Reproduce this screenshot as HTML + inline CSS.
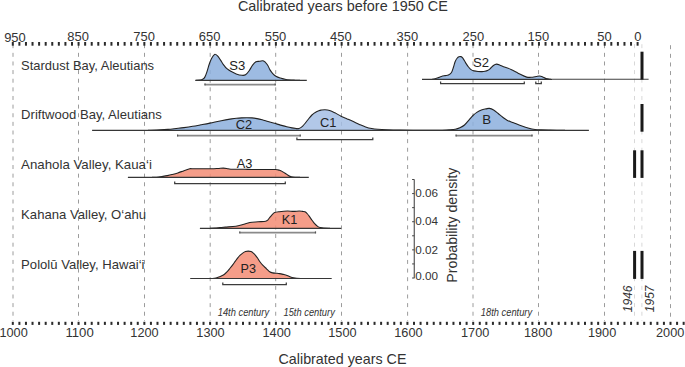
<!DOCTYPE html>
<html><head><meta charset="utf-8"><title>Calibrated years chart</title>
<style>html,body{margin:0;padding:0;background:#fff;width:685px;height:367px;overflow:hidden;font-family:"Liberation Sans",sans-serif;}svg{display:block;}</style>
</head><body>
<svg width="685" height="367" viewBox="0 0 685 367">
<line x1="13.00" y1="44.2" x2="13.00" y2="321" stroke="#9c9c9c" stroke-width="1" stroke-dasharray="4.0 4.63"/>
<line x1="78.50" y1="44.2" x2="78.50" y2="321" stroke="#9c9c9c" stroke-width="1" stroke-dasharray="4.0 4.63"/>
<line x1="144.50" y1="44.2" x2="144.50" y2="321" stroke="#9c9c9c" stroke-width="1" stroke-dasharray="4.0 4.63"/>
<line x1="210.20" y1="44.2" x2="210.20" y2="321" stroke="#9c9c9c" stroke-width="1" stroke-dasharray="4.0 4.63"/>
<line x1="275.70" y1="44.2" x2="275.70" y2="321" stroke="#9c9c9c" stroke-width="1" stroke-dasharray="4.0 4.63"/>
<line x1="341.50" y1="44.2" x2="341.50" y2="321" stroke="#9c9c9c" stroke-width="1" stroke-dasharray="4.0 4.63"/>
<line x1="407.60" y1="44.2" x2="407.60" y2="321" stroke="#9c9c9c" stroke-width="1" stroke-dasharray="4.0 4.63"/>
<line x1="473.00" y1="44.2" x2="473.00" y2="321" stroke="#9c9c9c" stroke-width="1" stroke-dasharray="4.0 4.63"/>
<line x1="538.50" y1="44.2" x2="538.50" y2="321" stroke="#9c9c9c" stroke-width="1" stroke-dasharray="4.0 4.63"/>
<line x1="604.50" y1="44.2" x2="604.50" y2="321" stroke="#9c9c9c" stroke-width="1" stroke-dasharray="4.0 4.63"/>
<line x1="670.50" y1="45.2" x2="670.50" y2="321" stroke="#9c9c9c" stroke-width="1" stroke-dasharray="4.0 4.63"/>
<line x1="634.50" y1="44.2" x2="634.50" y2="321" stroke="#d8d8d8" stroke-width="1" stroke-dasharray="4.0 4.63"/>
<line x1="641.90" y1="44.2" x2="641.90" y2="321" stroke="#d8d8d8" stroke-width="1" stroke-dasharray="4.0 4.63"/>
<path d="M196.00,80.30 C196.67,80.27 198.95,80.23 200.00,80.10 C201.05,79.97 201.52,79.95 202.30,79.50 C203.08,79.05 203.92,78.72 204.70,77.40 C205.48,76.08 206.23,73.83 207.00,71.60 C207.77,69.37 208.52,66.23 209.30,64.00 C210.08,61.77 210.82,59.80 211.70,58.20 C212.58,56.60 213.63,54.80 214.60,54.40 C215.57,54.00 216.53,54.88 217.50,55.80 C218.47,56.72 219.42,58.43 220.40,59.90 C221.38,61.37 222.32,63.13 223.40,64.60 C224.48,66.07 225.55,67.53 226.90,68.70 C228.25,69.87 229.95,70.73 231.50,71.60 C233.05,72.47 234.45,73.28 236.20,73.90 C237.95,74.52 240.45,75.15 242.00,75.30 C243.55,75.45 244.33,75.52 245.50,74.80 C246.67,74.08 247.82,72.60 249.00,71.00 C250.18,69.40 251.43,66.75 252.60,65.20 C253.77,63.65 254.83,62.35 256.00,61.70 C257.17,61.05 258.43,61.47 259.60,61.30 C260.77,61.13 262.03,60.53 263.00,60.70 C263.97,60.87 264.62,61.55 265.40,62.30 C266.18,63.05 266.93,63.93 267.70,65.20 C268.47,66.47 269.12,68.45 270.00,69.90 C270.88,71.35 272.02,72.83 273.00,73.90 C273.98,74.97 274.73,75.62 275.90,76.30 C277.07,76.98 278.32,77.47 280.00,78.00 C281.68,78.53 283.50,79.13 286.00,79.50 C288.50,79.87 292.67,80.07 295.00,80.20 C297.33,80.33 299.17,80.28 300.00,80.30 L300.00,80.30 L196.00,80.30 Z" fill="#8cafdd" fill-opacity="0.85" stroke="none"/>
<path d="M196.00,80.30 C196.67,80.27 198.95,80.23 200.00,80.10 C201.05,79.97 201.52,79.95 202.30,79.50 C203.08,79.05 203.92,78.72 204.70,77.40 C205.48,76.08 206.23,73.83 207.00,71.60 C207.77,69.37 208.52,66.23 209.30,64.00 C210.08,61.77 210.82,59.80 211.70,58.20 C212.58,56.60 213.63,54.80 214.60,54.40 C215.57,54.00 216.53,54.88 217.50,55.80 C218.47,56.72 219.42,58.43 220.40,59.90 C221.38,61.37 222.32,63.13 223.40,64.60 C224.48,66.07 225.55,67.53 226.90,68.70 C228.25,69.87 229.95,70.73 231.50,71.60 C233.05,72.47 234.45,73.28 236.20,73.90 C237.95,74.52 240.45,75.15 242.00,75.30 C243.55,75.45 244.33,75.52 245.50,74.80 C246.67,74.08 247.82,72.60 249.00,71.00 C250.18,69.40 251.43,66.75 252.60,65.20 C253.77,63.65 254.83,62.35 256.00,61.70 C257.17,61.05 258.43,61.47 259.60,61.30 C260.77,61.13 262.03,60.53 263.00,60.70 C263.97,60.87 264.62,61.55 265.40,62.30 C266.18,63.05 266.93,63.93 267.70,65.20 C268.47,66.47 269.12,68.45 270.00,69.90 C270.88,71.35 272.02,72.83 273.00,73.90 C273.98,74.97 274.73,75.62 275.90,76.30 C277.07,76.98 278.32,77.47 280.00,78.00 C281.68,78.53 283.50,79.13 286.00,79.50 C288.50,79.87 292.67,80.07 295.00,80.20 C297.33,80.33 299.17,80.28 300.00,80.30" fill="none" stroke="#222" stroke-width="1.1" stroke-linejoin="round"/>
<line x1="195.20" y1="80.30" x2="306.80" y2="80.30" stroke="#363636" stroke-width="1.15"/>
<path d="M432.00,79.30 C432.52,79.20 434.10,78.95 435.10,78.70 C436.10,78.45 436.95,78.18 438.00,77.80 C439.05,77.42 440.23,76.77 441.40,76.40 C442.57,76.03 443.83,75.83 445.00,75.60 C446.17,75.37 447.32,75.52 448.40,75.00 C449.48,74.48 450.65,73.83 451.50,72.50 C452.35,71.17 452.88,68.83 453.50,67.00 C454.12,65.17 454.57,63.00 455.20,61.50 C455.83,60.00 456.67,58.78 457.30,58.00 C457.93,57.22 458.43,57.03 459.00,56.80 C459.57,56.57 460.17,56.50 460.70,56.60 C461.23,56.70 461.65,56.83 462.20,57.40 C462.75,57.97 463.40,59.05 464.00,60.00 C464.60,60.95 465.05,61.93 465.80,63.10 C466.55,64.27 467.63,65.92 468.50,67.00 C469.37,68.08 470.08,68.95 471.00,69.60 C471.92,70.25 472.83,70.58 474.00,70.90 C475.17,71.22 476.67,71.38 478.00,71.50 C479.33,71.62 480.83,71.63 482.00,71.60 C483.17,71.57 484.08,71.47 485.00,71.30 C485.92,71.13 486.67,71.00 487.50,70.60 C488.33,70.20 489.02,69.75 490.00,68.90 C490.98,68.05 492.30,66.30 493.40,65.50 C494.50,64.70 495.50,64.15 496.60,64.10 C497.70,64.05 498.85,64.77 500.00,65.20 C501.15,65.63 501.67,66.00 503.50,66.70 C505.33,67.40 508.50,68.28 511.00,69.40 C513.50,70.52 515.88,72.12 518.50,73.40 C521.12,74.68 524.37,76.47 526.70,77.10 C529.03,77.73 530.90,77.30 532.50,77.20 C534.10,77.10 535.13,76.70 536.30,76.50 C537.47,76.30 538.45,75.93 539.50,76.00 C540.55,76.07 541.52,76.47 542.60,76.90 C543.68,77.33 544.60,78.20 546.00,78.60 C547.40,79.00 550.17,79.18 551.00,79.30 L551.00,79.30 L432.00,79.30 Z" fill="#8cafdd" fill-opacity="0.85" stroke="none"/>
<path d="M432.00,79.30 C432.52,79.20 434.10,78.95 435.10,78.70 C436.10,78.45 436.95,78.18 438.00,77.80 C439.05,77.42 440.23,76.77 441.40,76.40 C442.57,76.03 443.83,75.83 445.00,75.60 C446.17,75.37 447.32,75.52 448.40,75.00 C449.48,74.48 450.65,73.83 451.50,72.50 C452.35,71.17 452.88,68.83 453.50,67.00 C454.12,65.17 454.57,63.00 455.20,61.50 C455.83,60.00 456.67,58.78 457.30,58.00 C457.93,57.22 458.43,57.03 459.00,56.80 C459.57,56.57 460.17,56.50 460.70,56.60 C461.23,56.70 461.65,56.83 462.20,57.40 C462.75,57.97 463.40,59.05 464.00,60.00 C464.60,60.95 465.05,61.93 465.80,63.10 C466.55,64.27 467.63,65.92 468.50,67.00 C469.37,68.08 470.08,68.95 471.00,69.60 C471.92,70.25 472.83,70.58 474.00,70.90 C475.17,71.22 476.67,71.38 478.00,71.50 C479.33,71.62 480.83,71.63 482.00,71.60 C483.17,71.57 484.08,71.47 485.00,71.30 C485.92,71.13 486.67,71.00 487.50,70.60 C488.33,70.20 489.02,69.75 490.00,68.90 C490.98,68.05 492.30,66.30 493.40,65.50 C494.50,64.70 495.50,64.15 496.60,64.10 C497.70,64.05 498.85,64.77 500.00,65.20 C501.15,65.63 501.67,66.00 503.50,66.70 C505.33,67.40 508.50,68.28 511.00,69.40 C513.50,70.52 515.88,72.12 518.50,73.40 C521.12,74.68 524.37,76.47 526.70,77.10 C529.03,77.73 530.90,77.30 532.50,77.20 C534.10,77.10 535.13,76.70 536.30,76.50 C537.47,76.30 538.45,75.93 539.50,76.00 C540.55,76.07 541.52,76.47 542.60,76.90 C543.68,77.33 544.60,78.20 546.00,78.60 C547.40,79.00 550.17,79.18 551.00,79.30" fill="none" stroke="#222" stroke-width="1.1" stroke-linejoin="round"/>
<line x1="422.00" y1="79.30" x2="552.00" y2="79.30" stroke="#363636" stroke-width="1.15"/>
<line x1="552.00" y1="79.30" x2="648.60" y2="79.30" stroke="#404040" stroke-width="1.10"/>
<line x1="204.60" y1="84.60" x2="275.60" y2="84.60" stroke="#8a8a8a" stroke-width="1.7"/>
<rect x="204.40" y="83.40" width="1.2" height="2.0" fill="#555"/>
<rect x="274.60" y="83.40" width="1.2" height="2.0" fill="#555"/>
<path d="M440.60,81.40 L440.60,83.50 L524.30,83.50 L524.30,81.40" fill="none" stroke="#3c3c3c" stroke-width="1.25"/>
<path d="M535.80,81.40 L535.80,83.50 L541.30,83.50 L541.30,81.40" fill="none" stroke="#3c3c3c" stroke-width="1.25"/>
<path d="M148.00,130.30 C150.00,130.23 156.67,130.05 160.00,129.90 C163.33,129.75 165.28,129.63 168.00,129.40 C170.72,129.17 173.63,128.80 176.30,128.50 C178.97,128.20 181.27,127.97 184.00,127.60 C186.73,127.23 189.87,126.77 192.70,126.30 C195.53,125.83 198.12,125.33 201.00,124.80 C203.88,124.27 206.62,123.78 210.00,123.10 C213.38,122.42 217.72,121.40 221.30,120.70 C224.88,120.00 228.97,119.32 231.50,118.90 C234.03,118.48 234.80,118.38 236.50,118.20 C238.20,118.03 239.95,117.93 241.70,117.85 C243.45,117.77 245.28,117.69 247.00,117.70 C248.72,117.71 250.33,117.75 252.00,117.90 C253.67,118.05 255.30,118.28 257.00,118.60 C258.70,118.92 260.37,119.32 262.20,119.80 C264.03,120.28 265.97,120.92 268.00,121.50 C270.03,122.08 272.32,122.70 274.40,123.30 C276.48,123.90 278.45,124.52 280.50,125.10 C282.55,125.68 284.78,126.33 286.70,126.80 C288.62,127.27 290.30,127.60 292.00,127.90 C293.70,128.20 295.77,128.45 296.90,128.60 C298.03,128.75 298.48,128.77 298.80,128.80 L298.80,130.30 L148.00,130.30 Z" fill="#8cafdd" fill-opacity="0.85" stroke="none"/>
<path d="M148.00,130.30 C150.00,130.23 156.67,130.05 160.00,129.90 C163.33,129.75 165.28,129.63 168.00,129.40 C170.72,129.17 173.63,128.80 176.30,128.50 C178.97,128.20 181.27,127.97 184.00,127.60 C186.73,127.23 189.87,126.77 192.70,126.30 C195.53,125.83 198.12,125.33 201.00,124.80 C203.88,124.27 206.62,123.78 210.00,123.10 C213.38,122.42 217.72,121.40 221.30,120.70 C224.88,120.00 228.97,119.32 231.50,118.90 C234.03,118.48 234.80,118.38 236.50,118.20 C238.20,118.03 239.95,117.93 241.70,117.85 C243.45,117.77 245.28,117.69 247.00,117.70 C248.72,117.71 250.33,117.75 252.00,117.90 C253.67,118.05 255.30,118.28 257.00,118.60 C258.70,118.92 260.37,119.32 262.20,119.80 C264.03,120.28 265.97,120.92 268.00,121.50 C270.03,122.08 272.32,122.70 274.40,123.30 C276.48,123.90 278.45,124.52 280.50,125.10 C282.55,125.68 284.78,126.33 286.70,126.80 C288.62,127.27 290.30,127.60 292.00,127.90 C293.70,128.20 295.77,128.45 296.90,128.60 C298.03,128.75 298.48,128.77 298.80,128.80" fill="none" stroke="#222" stroke-width="1.1" stroke-linejoin="round"/>
<path d="M296.60,128.90 C296.98,128.83 298.20,128.72 298.90,128.50 C299.60,128.28 300.17,128.00 300.80,127.60 C301.43,127.20 302.00,126.78 302.70,126.10 C303.40,125.42 304.23,124.43 305.00,123.50 C305.77,122.57 306.53,121.48 307.30,120.50 C308.07,119.52 308.83,118.52 309.60,117.60 C310.37,116.68 311.13,115.75 311.90,115.00 C312.67,114.25 313.43,113.65 314.20,113.10 C314.97,112.55 315.73,112.10 316.50,111.70 C317.27,111.30 318.03,110.97 318.80,110.70 C319.57,110.43 320.07,110.27 321.10,110.10 C322.13,109.93 323.58,109.65 325.00,109.70 C326.42,109.75 327.95,109.88 329.60,110.40 C331.25,110.92 333.00,111.83 334.90,112.80 C336.80,113.77 338.95,115.18 341.00,116.20 C343.05,117.22 345.15,118.00 347.20,118.90 C349.25,119.80 351.27,120.68 353.30,121.60 C355.33,122.52 357.35,123.52 359.40,124.40 C361.45,125.28 363.55,126.22 365.60,126.90 C367.65,127.58 369.67,128.10 371.70,128.50 C373.73,128.90 375.25,129.08 377.80,129.30 C380.35,129.52 383.30,129.67 387.00,129.80 C390.70,129.93 394.50,130.03 400.00,130.10 C405.50,130.17 413.33,130.17 420.00,130.20 C426.67,130.23 436.67,130.28 440.00,130.30 L440.00,130.30 L296.60,130.30 Z" fill="#a4bee4" fill-opacity="0.85" stroke="none"/>
<path d="M296.60,128.90 C296.98,128.83 298.20,128.72 298.90,128.50 C299.60,128.28 300.17,128.00 300.80,127.60 C301.43,127.20 302.00,126.78 302.70,126.10 C303.40,125.42 304.23,124.43 305.00,123.50 C305.77,122.57 306.53,121.48 307.30,120.50 C308.07,119.52 308.83,118.52 309.60,117.60 C310.37,116.68 311.13,115.75 311.90,115.00 C312.67,114.25 313.43,113.65 314.20,113.10 C314.97,112.55 315.73,112.10 316.50,111.70 C317.27,111.30 318.03,110.97 318.80,110.70 C319.57,110.43 320.07,110.27 321.10,110.10 C322.13,109.93 323.58,109.65 325.00,109.70 C326.42,109.75 327.95,109.88 329.60,110.40 C331.25,110.92 333.00,111.83 334.90,112.80 C336.80,113.77 338.95,115.18 341.00,116.20 C343.05,117.22 345.15,118.00 347.20,118.90 C349.25,119.80 351.27,120.68 353.30,121.60 C355.33,122.52 357.35,123.52 359.40,124.40 C361.45,125.28 363.55,126.22 365.60,126.90 C367.65,127.58 369.67,128.10 371.70,128.50 C373.73,128.90 375.25,129.08 377.80,129.30 C380.35,129.52 383.30,129.67 387.00,129.80 C390.70,129.93 394.50,130.03 400.00,130.10 C405.50,130.17 413.33,130.17 420.00,130.20 C426.67,130.23 436.67,130.28 440.00,130.30" fill="none" stroke="#222" stroke-width="1.1" stroke-linejoin="round"/>
<path d="M440.00,130.30 C441.53,130.23 446.65,130.07 449.20,129.90 C451.75,129.73 453.52,129.65 455.30,129.30 C457.08,128.95 458.37,128.52 459.90,127.80 C461.43,127.08 462.97,126.33 464.50,125.00 C466.03,123.67 467.68,121.38 469.10,119.80 C470.52,118.22 471.72,116.73 473.00,115.50 C474.28,114.27 475.40,113.32 476.80,112.40 C478.20,111.48 479.87,110.58 481.40,110.00 C482.93,109.42 484.67,109.17 486.00,108.90 C487.33,108.63 488.13,108.22 489.40,108.40 C490.67,108.58 492.13,109.15 493.60,110.00 C495.07,110.85 496.67,112.28 498.20,113.50 C499.73,114.72 501.27,116.15 502.80,117.30 C504.33,118.45 505.60,119.48 507.40,120.40 C509.20,121.32 511.30,121.90 513.60,122.80 C515.90,123.70 518.65,124.88 521.20,125.80 C523.75,126.72 526.60,127.68 528.90,128.30 C531.20,128.92 532.95,129.23 535.00,129.50 C537.05,129.77 538.70,129.80 541.20,129.90 C543.70,130.00 546.03,130.03 550.00,130.10 C553.97,130.17 562.50,130.27 565.00,130.30 L565.00,130.30 L440.00,130.30 Z" fill="#8cafdd" fill-opacity="0.85" stroke="none"/>
<path d="M440.00,130.30 C441.53,130.23 446.65,130.07 449.20,129.90 C451.75,129.73 453.52,129.65 455.30,129.30 C457.08,128.95 458.37,128.52 459.90,127.80 C461.43,127.08 462.97,126.33 464.50,125.00 C466.03,123.67 467.68,121.38 469.10,119.80 C470.52,118.22 471.72,116.73 473.00,115.50 C474.28,114.27 475.40,113.32 476.80,112.40 C478.20,111.48 479.87,110.58 481.40,110.00 C482.93,109.42 484.67,109.17 486.00,108.90 C487.33,108.63 488.13,108.22 489.40,108.40 C490.67,108.58 492.13,109.15 493.60,110.00 C495.07,110.85 496.67,112.28 498.20,113.50 C499.73,114.72 501.27,116.15 502.80,117.30 C504.33,118.45 505.60,119.48 507.40,120.40 C509.20,121.32 511.30,121.90 513.60,122.80 C515.90,123.70 518.65,124.88 521.20,125.80 C523.75,126.72 526.60,127.68 528.90,128.30 C531.20,128.92 532.95,129.23 535.00,129.50 C537.05,129.77 538.70,129.80 541.20,129.90 C543.70,130.00 546.03,130.03 550.00,130.10 C553.97,130.17 562.50,130.27 565.00,130.30" fill="none" stroke="#222" stroke-width="1.1" stroke-linejoin="round"/>
<line x1="92.10" y1="130.30" x2="588.90" y2="130.30" stroke="#363636" stroke-width="1.15"/>
<line x1="177.20" y1="135.70" x2="300.60" y2="135.70" stroke="#8a8a8a" stroke-width="1.7"/>
<rect x="177.00" y="134.50" width="1.2" height="2.0" fill="#555"/>
<rect x="299.60" y="134.50" width="1.2" height="2.0" fill="#555"/>
<path d="M296.90,137.40 L296.90,139.50 L372.80,139.50 L372.80,137.40" fill="none" stroke="#3c3c3c" stroke-width="1.25"/>
<line x1="455.70" y1="135.70" x2="532.40" y2="135.70" stroke="#8a8a8a" stroke-width="1.7"/>
<rect x="455.50" y="134.50" width="1.2" height="2.0" fill="#555"/>
<rect x="531.40" y="134.50" width="1.2" height="2.0" fill="#555"/>
<path d="M152.00,177.40 C153.08,177.35 156.67,177.27 158.50,177.10 C160.33,176.93 161.53,176.65 163.00,176.40 C164.47,176.15 165.80,175.92 167.30,175.60 C168.80,175.28 170.25,174.95 172.00,174.50 C173.75,174.05 175.80,173.53 177.80,172.90 C179.80,172.27 182.00,171.38 184.00,170.70 C186.00,170.02 188.47,169.13 189.80,168.80 C191.13,168.47 190.30,168.72 192.00,168.70 C193.70,168.68 196.82,168.68 200.00,168.70 C203.18,168.72 208.10,168.83 211.10,168.80 C214.10,168.77 215.95,168.62 218.00,168.50 C220.05,168.38 221.73,168.07 223.40,168.10 C225.07,168.13 226.55,168.50 228.00,168.70 C229.45,168.90 230.30,169.22 232.10,169.30 C233.90,169.38 236.15,169.18 238.80,169.20 C241.45,169.22 245.08,169.35 248.00,169.40 C250.92,169.45 253.30,169.48 256.30,169.50 C259.30,169.52 262.80,169.50 266.00,169.50 C269.20,169.50 273.25,169.37 275.50,169.50 C277.75,169.63 278.32,169.93 279.50,170.30 C280.68,170.67 281.60,171.17 282.60,171.70 C283.60,172.23 284.63,172.93 285.50,173.50 C286.37,174.07 286.83,174.55 287.80,175.10 C288.77,175.65 289.93,176.43 291.30,176.80 C292.67,177.17 294.55,177.20 296.00,177.30 C297.45,177.40 299.33,177.38 300.00,177.40 L300.00,177.40 L152.00,177.40 Z" fill="#f38c74" fill-opacity="0.85" stroke="none"/>
<path d="M152.00,177.40 C153.08,177.35 156.67,177.27 158.50,177.10 C160.33,176.93 161.53,176.65 163.00,176.40 C164.47,176.15 165.80,175.92 167.30,175.60 C168.80,175.28 170.25,174.95 172.00,174.50 C173.75,174.05 175.80,173.53 177.80,172.90 C179.80,172.27 182.00,171.38 184.00,170.70 C186.00,170.02 188.47,169.13 189.80,168.80 C191.13,168.47 190.30,168.72 192.00,168.70 C193.70,168.68 196.82,168.68 200.00,168.70 C203.18,168.72 208.10,168.83 211.10,168.80 C214.10,168.77 215.95,168.62 218.00,168.50 C220.05,168.38 221.73,168.07 223.40,168.10 C225.07,168.13 226.55,168.50 228.00,168.70 C229.45,168.90 230.30,169.22 232.10,169.30 C233.90,169.38 236.15,169.18 238.80,169.20 C241.45,169.22 245.08,169.35 248.00,169.40 C250.92,169.45 253.30,169.48 256.30,169.50 C259.30,169.52 262.80,169.50 266.00,169.50 C269.20,169.50 273.25,169.37 275.50,169.50 C277.75,169.63 278.32,169.93 279.50,170.30 C280.68,170.67 281.60,171.17 282.60,171.70 C283.60,172.23 284.63,172.93 285.50,173.50 C286.37,174.07 286.83,174.55 287.80,175.10 C288.77,175.65 289.93,176.43 291.30,176.80 C292.67,177.17 294.55,177.20 296.00,177.30 C297.45,177.40 299.33,177.38 300.00,177.40" fill="none" stroke="#222" stroke-width="1.1" stroke-linejoin="round"/>
<line x1="127.90" y1="177.40" x2="308.80" y2="177.40" stroke="#363636" stroke-width="1.15"/>
<path d="M174.70,181.40 L174.70,183.50 L285.30,183.50 L285.30,181.40" fill="none" stroke="#3c3c3c" stroke-width="1.25"/>
<path d="M210.00,228.30 C210.82,228.27 213.23,228.22 214.90,228.10 C216.57,227.98 218.25,227.77 220.00,227.60 C221.75,227.43 222.75,227.33 225.40,227.10 C228.05,226.87 232.98,226.63 235.90,226.20 C238.82,225.77 240.57,225.12 242.90,224.50 C245.23,223.88 247.37,222.95 249.90,222.50 C252.43,222.05 255.47,222.02 258.10,221.80 C260.73,221.58 264.05,221.53 265.70,221.20 C267.35,220.87 267.33,220.42 268.00,219.80 C268.67,219.18 269.03,218.33 269.70,217.50 C270.37,216.67 271.17,215.62 272.00,214.80 C272.83,213.98 273.48,213.12 274.70,212.60 C275.92,212.08 277.17,211.97 279.30,211.70 C281.43,211.43 285.15,211.05 287.50,211.00 C289.85,210.95 291.45,211.40 293.40,211.40 C295.35,211.40 297.68,211.00 299.20,211.00 C300.72,211.00 301.53,211.27 302.50,211.40 C303.47,211.53 304.17,211.37 305.00,211.80 C305.83,212.23 306.72,213.15 307.50,214.00 C308.28,214.85 308.95,215.87 309.70,216.90 C310.45,217.93 311.22,219.12 312.00,220.20 C312.78,221.28 313.42,222.33 314.40,223.40 C315.38,224.47 316.88,225.90 317.90,226.60 C318.92,227.30 319.53,227.35 320.50,227.60 C321.47,227.85 322.12,227.98 323.70,228.10 C325.28,228.22 328.95,228.27 330.00,228.30 L330.00,228.30 L210.00,228.30 Z" fill="#f38c74" fill-opacity="0.85" stroke="none"/>
<path d="M210.00,228.30 C210.82,228.27 213.23,228.22 214.90,228.10 C216.57,227.98 218.25,227.77 220.00,227.60 C221.75,227.43 222.75,227.33 225.40,227.10 C228.05,226.87 232.98,226.63 235.90,226.20 C238.82,225.77 240.57,225.12 242.90,224.50 C245.23,223.88 247.37,222.95 249.90,222.50 C252.43,222.05 255.47,222.02 258.10,221.80 C260.73,221.58 264.05,221.53 265.70,221.20 C267.35,220.87 267.33,220.42 268.00,219.80 C268.67,219.18 269.03,218.33 269.70,217.50 C270.37,216.67 271.17,215.62 272.00,214.80 C272.83,213.98 273.48,213.12 274.70,212.60 C275.92,212.08 277.17,211.97 279.30,211.70 C281.43,211.43 285.15,211.05 287.50,211.00 C289.85,210.95 291.45,211.40 293.40,211.40 C295.35,211.40 297.68,211.00 299.20,211.00 C300.72,211.00 301.53,211.27 302.50,211.40 C303.47,211.53 304.17,211.37 305.00,211.80 C305.83,212.23 306.72,213.15 307.50,214.00 C308.28,214.85 308.95,215.87 309.70,216.90 C310.45,217.93 311.22,219.12 312.00,220.20 C312.78,221.28 313.42,222.33 314.40,223.40 C315.38,224.47 316.88,225.90 317.90,226.60 C318.92,227.30 319.53,227.35 320.50,227.60 C321.47,227.85 322.12,227.98 323.70,228.10 C325.28,228.22 328.95,228.27 330.00,228.30" fill="none" stroke="#222" stroke-width="1.1" stroke-linejoin="round"/>
<line x1="199.90" y1="228.30" x2="341.20" y2="228.30" stroke="#363636" stroke-width="1.15"/>
<line x1="239.40" y1="232.60" x2="315.90" y2="232.60" stroke="#8a8a8a" stroke-width="1.7"/>
<rect x="239.20" y="231.40" width="1.2" height="2.0" fill="#555"/>
<rect x="314.90" y="231.40" width="1.2" height="2.0" fill="#555"/>
<path d="M208.00,278.50 C209.07,278.45 212.73,278.40 214.40,278.20 C216.07,278.00 216.77,277.72 218.00,277.30 C219.23,276.88 220.72,276.22 221.80,275.70 C222.88,275.18 223.68,274.78 224.50,274.20 C225.32,273.62 225.82,273.15 226.70,272.20 C227.58,271.25 228.77,269.77 229.80,268.50 C230.83,267.23 231.97,265.83 232.90,264.60 C233.83,263.37 234.58,262.22 235.40,261.10 C236.22,259.98 237.00,258.88 237.80,257.90 C238.60,256.92 239.38,256.00 240.20,255.20 C241.02,254.40 241.82,253.70 242.70,253.10 C243.58,252.50 244.58,251.93 245.50,251.60 C246.42,251.27 247.28,251.10 248.20,251.10 C249.12,251.10 250.15,251.27 251.00,251.60 C251.85,251.93 252.55,252.48 253.30,253.10 C254.05,253.72 254.77,254.43 255.50,255.30 C256.23,256.17 256.93,257.18 257.70,258.30 C258.47,259.42 259.27,260.85 260.10,262.00 C260.93,263.15 261.63,264.07 262.70,265.20 C263.77,266.33 265.33,267.70 266.50,268.80 C267.67,269.90 268.65,271.12 269.70,271.80 C270.75,272.48 271.77,272.67 272.80,272.90 C273.83,273.13 274.78,273.08 275.90,273.20 C277.02,273.32 278.28,273.40 279.50,273.60 C280.72,273.80 281.95,274.10 283.20,274.40 C284.45,274.70 285.77,274.98 287.00,275.40 C288.23,275.82 289.52,276.52 290.60,276.90 C291.68,277.28 292.48,277.48 293.50,277.70 C294.52,277.92 295.28,278.07 296.70,278.20 C298.12,278.33 301.12,278.45 302.00,278.50 L302.00,278.50 L208.00,278.50 Z" fill="#f38c74" fill-opacity="0.85" stroke="none"/>
<path d="M208.00,278.50 C209.07,278.45 212.73,278.40 214.40,278.20 C216.07,278.00 216.77,277.72 218.00,277.30 C219.23,276.88 220.72,276.22 221.80,275.70 C222.88,275.18 223.68,274.78 224.50,274.20 C225.32,273.62 225.82,273.15 226.70,272.20 C227.58,271.25 228.77,269.77 229.80,268.50 C230.83,267.23 231.97,265.83 232.90,264.60 C233.83,263.37 234.58,262.22 235.40,261.10 C236.22,259.98 237.00,258.88 237.80,257.90 C238.60,256.92 239.38,256.00 240.20,255.20 C241.02,254.40 241.82,253.70 242.70,253.10 C243.58,252.50 244.58,251.93 245.50,251.60 C246.42,251.27 247.28,251.10 248.20,251.10 C249.12,251.10 250.15,251.27 251.00,251.60 C251.85,251.93 252.55,252.48 253.30,253.10 C254.05,253.72 254.77,254.43 255.50,255.30 C256.23,256.17 256.93,257.18 257.70,258.30 C258.47,259.42 259.27,260.85 260.10,262.00 C260.93,263.15 261.63,264.07 262.70,265.20 C263.77,266.33 265.33,267.70 266.50,268.80 C267.67,269.90 268.65,271.12 269.70,271.80 C270.75,272.48 271.77,272.67 272.80,272.90 C273.83,273.13 274.78,273.08 275.90,273.20 C277.02,273.32 278.28,273.40 279.50,273.60 C280.72,273.80 281.95,274.10 283.20,274.40 C284.45,274.70 285.77,274.98 287.00,275.40 C288.23,275.82 289.52,276.52 290.60,276.90 C291.68,277.28 292.48,277.48 293.50,277.70 C294.52,277.92 295.28,278.07 296.70,278.20 C298.12,278.33 301.12,278.45 302.00,278.50" fill="none" stroke="#222" stroke-width="1.1" stroke-linejoin="round"/>
<line x1="190.20" y1="278.50" x2="331.70" y2="278.50" stroke="#363636" stroke-width="1.15"/>
<path d="M222.80,282.40 L222.80,284.50 L286.30,284.50 L286.30,282.40" fill="none" stroke="#3c3c3c" stroke-width="1.25"/>
<rect x="640.50" y="51.70" width="3" height="27.90" fill="#1a1a1a"/>
<rect x="640.50" y="104.00" width="3" height="27.70" fill="#1a1a1a"/>
<rect x="633.10" y="150.30" width="3" height="27.60" fill="#1a1a1a"/>
<rect x="640.50" y="150.30" width="3" height="27.60" fill="#1a1a1a"/>
<rect x="633.10" y="250.90" width="3" height="28.00" fill="#1a1a1a"/>
<rect x="640.50" y="250.90" width="3" height="28.00" fill="#1a1a1a"/>
<rect x="636.61" y="42" width="2" height="3.7" fill="#2a2a2a"/>
<rect x="630.04" y="42" width="2" height="3.7" fill="#2a2a2a"/>
<rect x="623.46" y="42" width="2" height="3.7" fill="#2a2a2a"/>
<rect x="616.88" y="42" width="2" height="3.7" fill="#2a2a2a"/>
<rect x="610.31" y="42" width="2" height="3.7" fill="#2a2a2a"/>
<rect x="603.73" y="42" width="2" height="3.7" fill="#2a2a2a"/>
<rect x="597.15" y="42" width="2" height="3.7" fill="#2a2a2a"/>
<rect x="590.58" y="42" width="2" height="3.7" fill="#2a2a2a"/>
<rect x="584.00" y="42" width="2" height="3.7" fill="#2a2a2a"/>
<rect x="577.42" y="42" width="2" height="3.7" fill="#2a2a2a"/>
<rect x="570.84" y="42" width="2" height="3.7" fill="#2a2a2a"/>
<rect x="564.27" y="42" width="2" height="3.7" fill="#2a2a2a"/>
<rect x="557.69" y="42" width="2" height="3.7" fill="#2a2a2a"/>
<rect x="551.11" y="42" width="2" height="3.7" fill="#2a2a2a"/>
<rect x="544.54" y="42" width="2" height="3.7" fill="#2a2a2a"/>
<rect x="537.96" y="42" width="2" height="3.7" fill="#2a2a2a"/>
<rect x="531.38" y="42" width="2" height="3.7" fill="#2a2a2a"/>
<rect x="524.81" y="42" width="2" height="3.7" fill="#2a2a2a"/>
<rect x="518.23" y="42" width="2" height="3.7" fill="#2a2a2a"/>
<rect x="511.65" y="42" width="2" height="3.7" fill="#2a2a2a"/>
<rect x="505.07" y="42" width="2" height="3.7" fill="#2a2a2a"/>
<rect x="498.50" y="42" width="2" height="3.7" fill="#2a2a2a"/>
<rect x="491.92" y="42" width="2" height="3.7" fill="#2a2a2a"/>
<rect x="485.34" y="42" width="2" height="3.7" fill="#2a2a2a"/>
<rect x="478.77" y="42" width="2" height="3.7" fill="#2a2a2a"/>
<rect x="472.19" y="42" width="2" height="3.7" fill="#2a2a2a"/>
<rect x="465.61" y="42" width="2" height="3.7" fill="#2a2a2a"/>
<rect x="459.04" y="42" width="2" height="3.7" fill="#2a2a2a"/>
<rect x="452.46" y="42" width="2" height="3.7" fill="#2a2a2a"/>
<rect x="445.88" y="42" width="2" height="3.7" fill="#2a2a2a"/>
<rect x="439.31" y="42" width="2" height="3.7" fill="#2a2a2a"/>
<rect x="432.73" y="42" width="2" height="3.7" fill="#2a2a2a"/>
<rect x="426.15" y="42" width="2" height="3.7" fill="#2a2a2a"/>
<rect x="419.57" y="42" width="2" height="3.7" fill="#2a2a2a"/>
<rect x="413.00" y="42" width="2" height="3.7" fill="#2a2a2a"/>
<rect x="406.42" y="42" width="2" height="3.7" fill="#2a2a2a"/>
<rect x="399.84" y="42" width="2" height="3.7" fill="#2a2a2a"/>
<rect x="393.27" y="42" width="2" height="3.7" fill="#2a2a2a"/>
<rect x="386.69" y="42" width="2" height="3.7" fill="#2a2a2a"/>
<rect x="380.11" y="42" width="2" height="3.7" fill="#2a2a2a"/>
<rect x="373.53" y="42" width="2" height="3.7" fill="#2a2a2a"/>
<rect x="366.96" y="42" width="2" height="3.7" fill="#2a2a2a"/>
<rect x="360.38" y="42" width="2" height="3.7" fill="#2a2a2a"/>
<rect x="353.80" y="42" width="2" height="3.7" fill="#2a2a2a"/>
<rect x="347.23" y="42" width="2" height="3.7" fill="#2a2a2a"/>
<rect x="340.65" y="42" width="2" height="3.7" fill="#2a2a2a"/>
<rect x="334.07" y="42" width="2" height="3.7" fill="#2a2a2a"/>
<rect x="327.50" y="42" width="2" height="3.7" fill="#2a2a2a"/>
<rect x="320.92" y="42" width="2" height="3.7" fill="#2a2a2a"/>
<rect x="314.34" y="42" width="2" height="3.7" fill="#2a2a2a"/>
<rect x="307.76" y="42" width="2" height="3.7" fill="#2a2a2a"/>
<rect x="301.19" y="42" width="2" height="3.7" fill="#2a2a2a"/>
<rect x="294.61" y="42" width="2" height="3.7" fill="#2a2a2a"/>
<rect x="288.03" y="42" width="2" height="3.7" fill="#2a2a2a"/>
<rect x="281.46" y="42" width="2" height="3.7" fill="#2a2a2a"/>
<rect x="274.88" y="42" width="2" height="3.7" fill="#2a2a2a"/>
<rect x="268.30" y="42" width="2" height="3.7" fill="#2a2a2a"/>
<rect x="261.73" y="42" width="2" height="3.7" fill="#2a2a2a"/>
<rect x="255.15" y="42" width="2" height="3.7" fill="#2a2a2a"/>
<rect x="248.57" y="42" width="2" height="3.7" fill="#2a2a2a"/>
<rect x="242.00" y="42" width="2" height="3.7" fill="#2a2a2a"/>
<rect x="235.42" y="42" width="2" height="3.7" fill="#2a2a2a"/>
<rect x="228.84" y="42" width="2" height="3.7" fill="#2a2a2a"/>
<rect x="222.26" y="42" width="2" height="3.7" fill="#2a2a2a"/>
<rect x="215.69" y="42" width="2" height="3.7" fill="#2a2a2a"/>
<rect x="209.11" y="42" width="2" height="3.7" fill="#2a2a2a"/>
<rect x="202.53" y="42" width="2" height="3.7" fill="#2a2a2a"/>
<rect x="195.96" y="42" width="2" height="3.7" fill="#2a2a2a"/>
<rect x="189.38" y="42" width="2" height="3.7" fill="#2a2a2a"/>
<rect x="182.80" y="42" width="2" height="3.7" fill="#2a2a2a"/>
<rect x="176.22" y="42" width="2" height="3.7" fill="#2a2a2a"/>
<rect x="169.65" y="42" width="2" height="3.7" fill="#2a2a2a"/>
<rect x="163.07" y="42" width="2" height="3.7" fill="#2a2a2a"/>
<rect x="156.49" y="42" width="2" height="3.7" fill="#2a2a2a"/>
<rect x="149.92" y="42" width="2" height="3.7" fill="#2a2a2a"/>
<rect x="143.34" y="42" width="2" height="3.7" fill="#2a2a2a"/>
<rect x="136.76" y="42" width="2" height="3.7" fill="#2a2a2a"/>
<rect x="130.19" y="42" width="2" height="3.7" fill="#2a2a2a"/>
<rect x="123.61" y="42" width="2" height="3.7" fill="#2a2a2a"/>
<rect x="117.03" y="42" width="2" height="3.7" fill="#2a2a2a"/>
<rect x="110.45" y="42" width="2" height="3.7" fill="#2a2a2a"/>
<rect x="103.88" y="42" width="2" height="3.7" fill="#2a2a2a"/>
<rect x="97.30" y="42" width="2" height="3.7" fill="#2a2a2a"/>
<rect x="90.72" y="42" width="2" height="3.7" fill="#2a2a2a"/>
<rect x="84.15" y="42" width="2" height="3.7" fill="#2a2a2a"/>
<rect x="77.57" y="42" width="2" height="3.7" fill="#2a2a2a"/>
<rect x="70.99" y="42" width="2" height="3.7" fill="#2a2a2a"/>
<rect x="64.42" y="42" width="2" height="3.7" fill="#2a2a2a"/>
<rect x="57.84" y="42" width="2" height="3.7" fill="#2a2a2a"/>
<rect x="51.26" y="42" width="2" height="3.7" fill="#2a2a2a"/>
<rect x="44.69" y="42" width="2" height="3.7" fill="#2a2a2a"/>
<rect x="38.11" y="42" width="2" height="3.7" fill="#2a2a2a"/>
<rect x="31.53" y="42" width="2" height="3.7" fill="#2a2a2a"/>
<rect x="24.95" y="42" width="2" height="3.7" fill="#2a2a2a"/>
<rect x="18.38" y="42" width="2" height="3.7" fill="#2a2a2a"/>
<rect x="11.80" y="42" width="2" height="3.7" fill="#2a2a2a"/>
<rect x="11.80" y="321.8" width="2" height="3.1" fill="#2a2a2a"/>
<rect x="18.38" y="321.8" width="2" height="3.1" fill="#2a2a2a"/>
<rect x="24.95" y="321.8" width="2" height="3.1" fill="#2a2a2a"/>
<rect x="31.53" y="321.8" width="2" height="3.1" fill="#2a2a2a"/>
<rect x="38.11" y="321.8" width="2" height="3.1" fill="#2a2a2a"/>
<rect x="44.69" y="321.8" width="2" height="3.1" fill="#2a2a2a"/>
<rect x="51.26" y="321.8" width="2" height="3.1" fill="#2a2a2a"/>
<rect x="57.84" y="321.8" width="2" height="3.1" fill="#2a2a2a"/>
<rect x="64.42" y="321.8" width="2" height="3.1" fill="#2a2a2a"/>
<rect x="70.99" y="321.8" width="2" height="3.1" fill="#2a2a2a"/>
<rect x="77.57" y="321.8" width="2" height="3.1" fill="#2a2a2a"/>
<rect x="84.15" y="321.8" width="2" height="3.1" fill="#2a2a2a"/>
<rect x="90.72" y="321.8" width="2" height="3.1" fill="#2a2a2a"/>
<rect x="97.30" y="321.8" width="2" height="3.1" fill="#2a2a2a"/>
<rect x="103.88" y="321.8" width="2" height="3.1" fill="#2a2a2a"/>
<rect x="110.45" y="321.8" width="2" height="3.1" fill="#2a2a2a"/>
<rect x="117.03" y="321.8" width="2" height="3.1" fill="#2a2a2a"/>
<rect x="123.61" y="321.8" width="2" height="3.1" fill="#2a2a2a"/>
<rect x="130.19" y="321.8" width="2" height="3.1" fill="#2a2a2a"/>
<rect x="136.76" y="321.8" width="2" height="3.1" fill="#2a2a2a"/>
<rect x="143.34" y="321.8" width="2" height="3.1" fill="#2a2a2a"/>
<rect x="149.92" y="321.8" width="2" height="3.1" fill="#2a2a2a"/>
<rect x="156.49" y="321.8" width="2" height="3.1" fill="#2a2a2a"/>
<rect x="163.07" y="321.8" width="2" height="3.1" fill="#2a2a2a"/>
<rect x="169.65" y="321.8" width="2" height="3.1" fill="#2a2a2a"/>
<rect x="176.22" y="321.8" width="2" height="3.1" fill="#2a2a2a"/>
<rect x="182.80" y="321.8" width="2" height="3.1" fill="#2a2a2a"/>
<rect x="189.38" y="321.8" width="2" height="3.1" fill="#2a2a2a"/>
<rect x="195.96" y="321.8" width="2" height="3.1" fill="#2a2a2a"/>
<rect x="202.53" y="321.8" width="2" height="3.1" fill="#2a2a2a"/>
<rect x="209.11" y="321.8" width="2" height="3.1" fill="#2a2a2a"/>
<rect x="215.69" y="321.8" width="2" height="3.1" fill="#2a2a2a"/>
<rect x="222.26" y="321.8" width="2" height="3.1" fill="#2a2a2a"/>
<rect x="228.84" y="321.8" width="2" height="3.1" fill="#2a2a2a"/>
<rect x="235.42" y="321.8" width="2" height="3.1" fill="#2a2a2a"/>
<rect x="242.00" y="321.8" width="2" height="3.1" fill="#2a2a2a"/>
<rect x="248.57" y="321.8" width="2" height="3.1" fill="#2a2a2a"/>
<rect x="255.15" y="321.8" width="2" height="3.1" fill="#2a2a2a"/>
<rect x="261.73" y="321.8" width="2" height="3.1" fill="#2a2a2a"/>
<rect x="268.30" y="321.8" width="2" height="3.1" fill="#2a2a2a"/>
<rect x="274.88" y="321.8" width="2" height="3.1" fill="#2a2a2a"/>
<rect x="281.46" y="321.8" width="2" height="3.1" fill="#2a2a2a"/>
<rect x="288.03" y="321.8" width="2" height="3.1" fill="#2a2a2a"/>
<rect x="294.61" y="321.8" width="2" height="3.1" fill="#2a2a2a"/>
<rect x="301.19" y="321.8" width="2" height="3.1" fill="#2a2a2a"/>
<rect x="307.76" y="321.8" width="2" height="3.1" fill="#2a2a2a"/>
<rect x="314.34" y="321.8" width="2" height="3.1" fill="#2a2a2a"/>
<rect x="320.92" y="321.8" width="2" height="3.1" fill="#2a2a2a"/>
<rect x="327.50" y="321.8" width="2" height="3.1" fill="#2a2a2a"/>
<rect x="334.07" y="321.8" width="2" height="3.1" fill="#2a2a2a"/>
<rect x="340.65" y="321.8" width="2" height="3.1" fill="#2a2a2a"/>
<rect x="347.23" y="321.8" width="2" height="3.1" fill="#2a2a2a"/>
<rect x="353.80" y="321.8" width="2" height="3.1" fill="#2a2a2a"/>
<rect x="360.38" y="321.8" width="2" height="3.1" fill="#2a2a2a"/>
<rect x="366.96" y="321.8" width="2" height="3.1" fill="#2a2a2a"/>
<rect x="373.53" y="321.8" width="2" height="3.1" fill="#2a2a2a"/>
<rect x="380.11" y="321.8" width="2" height="3.1" fill="#2a2a2a"/>
<rect x="386.69" y="321.8" width="2" height="3.1" fill="#2a2a2a"/>
<rect x="393.27" y="321.8" width="2" height="3.1" fill="#2a2a2a"/>
<rect x="399.84" y="321.8" width="2" height="3.1" fill="#2a2a2a"/>
<rect x="406.42" y="321.8" width="2" height="3.1" fill="#2a2a2a"/>
<rect x="413.00" y="321.8" width="2" height="3.1" fill="#2a2a2a"/>
<rect x="419.57" y="321.8" width="2" height="3.1" fill="#2a2a2a"/>
<rect x="426.15" y="321.8" width="2" height="3.1" fill="#2a2a2a"/>
<rect x="432.73" y="321.8" width="2" height="3.1" fill="#2a2a2a"/>
<rect x="439.31" y="321.8" width="2" height="3.1" fill="#2a2a2a"/>
<rect x="445.88" y="321.8" width="2" height="3.1" fill="#2a2a2a"/>
<rect x="452.46" y="321.8" width="2" height="3.1" fill="#2a2a2a"/>
<rect x="459.04" y="321.8" width="2" height="3.1" fill="#2a2a2a"/>
<rect x="465.61" y="321.8" width="2" height="3.1" fill="#2a2a2a"/>
<rect x="472.19" y="321.8" width="2" height="3.1" fill="#2a2a2a"/>
<rect x="478.77" y="321.8" width="2" height="3.1" fill="#2a2a2a"/>
<rect x="485.34" y="321.8" width="2" height="3.1" fill="#2a2a2a"/>
<rect x="491.92" y="321.8" width="2" height="3.1" fill="#2a2a2a"/>
<rect x="498.50" y="321.8" width="2" height="3.1" fill="#2a2a2a"/>
<rect x="505.07" y="321.8" width="2" height="3.1" fill="#2a2a2a"/>
<rect x="511.65" y="321.8" width="2" height="3.1" fill="#2a2a2a"/>
<rect x="518.23" y="321.8" width="2" height="3.1" fill="#2a2a2a"/>
<rect x="524.81" y="321.8" width="2" height="3.1" fill="#2a2a2a"/>
<rect x="531.38" y="321.8" width="2" height="3.1" fill="#2a2a2a"/>
<rect x="537.96" y="321.8" width="2" height="3.1" fill="#2a2a2a"/>
<rect x="544.54" y="321.8" width="2" height="3.1" fill="#2a2a2a"/>
<rect x="551.11" y="321.8" width="2" height="3.1" fill="#2a2a2a"/>
<rect x="557.69" y="321.8" width="2" height="3.1" fill="#2a2a2a"/>
<rect x="564.27" y="321.8" width="2" height="3.1" fill="#2a2a2a"/>
<rect x="570.84" y="321.8" width="2" height="3.1" fill="#2a2a2a"/>
<rect x="577.42" y="321.8" width="2" height="3.1" fill="#2a2a2a"/>
<rect x="584.00" y="321.8" width="2" height="3.1" fill="#2a2a2a"/>
<rect x="590.58" y="321.8" width="2" height="3.1" fill="#2a2a2a"/>
<rect x="597.15" y="321.8" width="2" height="3.1" fill="#2a2a2a"/>
<rect x="603.73" y="321.8" width="2" height="3.1" fill="#2a2a2a"/>
<rect x="610.31" y="321.8" width="2" height="3.1" fill="#2a2a2a"/>
<rect x="616.88" y="321.8" width="2" height="3.1" fill="#2a2a2a"/>
<rect x="623.46" y="321.8" width="2" height="3.1" fill="#2a2a2a"/>
<rect x="630.04" y="321.8" width="2" height="3.1" fill="#2a2a2a"/>
<rect x="636.61" y="321.8" width="2" height="3.1" fill="#2a2a2a"/>
<rect x="643.19" y="321.8" width="2" height="3.1" fill="#2a2a2a"/>
<rect x="649.77" y="321.8" width="2" height="3.1" fill="#2a2a2a"/>
<rect x="656.35" y="321.8" width="2" height="3.1" fill="#2a2a2a"/>
<rect x="662.92" y="321.8" width="2" height="3.1" fill="#2a2a2a"/>
<rect x="669.50" y="321.8" width="2" height="3.1" fill="#2a2a2a"/>
<rect x="676.08" y="321.8" width="2" height="3.1" fill="#2a2a2a"/>
<rect x="682.65" y="321.8" width="2" height="3.1" fill="#2a2a2a"/>
<text x="14.95" y="42.2" font-size="13.3" textLength="21.6" lengthAdjust="spacingAndGlyphs" text-anchor="middle" fill="#333" font-family="Liberation Sans, sans-serif">950</text>
<text x="78.05" y="40.5" font-size="13.3" textLength="21.6" lengthAdjust="spacingAndGlyphs" text-anchor="middle" fill="#333" font-family="Liberation Sans, sans-serif">850</text>
<text x="144.05" y="40.5" font-size="13.3" textLength="21.6" lengthAdjust="spacingAndGlyphs" text-anchor="middle" fill="#333" font-family="Liberation Sans, sans-serif">750</text>
<text x="209.55" y="40.5" font-size="13.3" textLength="21.6" lengthAdjust="spacingAndGlyphs" text-anchor="middle" fill="#333" font-family="Liberation Sans, sans-serif">650</text>
<text x="275.50" y="40.5" font-size="13.3" textLength="21.6" lengthAdjust="spacingAndGlyphs" text-anchor="middle" fill="#333" font-family="Liberation Sans, sans-serif">550</text>
<text x="340.90" y="40.5" font-size="13.3" textLength="21.6" lengthAdjust="spacingAndGlyphs" text-anchor="middle" fill="#333" font-family="Liberation Sans, sans-serif">450</text>
<text x="407.30" y="40.5" font-size="13.3" textLength="21.6" lengthAdjust="spacingAndGlyphs" text-anchor="middle" fill="#333" font-family="Liberation Sans, sans-serif">350</text>
<text x="473.40" y="40.5" font-size="13.3" textLength="21.6" lengthAdjust="spacingAndGlyphs" text-anchor="middle" fill="#333" font-family="Liberation Sans, sans-serif">250</text>
<text x="538.30" y="40.5" font-size="13.3" textLength="21.6" lengthAdjust="spacingAndGlyphs" text-anchor="middle" fill="#333" font-family="Liberation Sans, sans-serif">150</text>
<text x="604.50" y="40.5" font-size="13.3" textLength="14.4" lengthAdjust="spacingAndGlyphs" text-anchor="middle" fill="#333" font-family="Liberation Sans, sans-serif">50</text>
<text x="637.90" y="40.5" font-size="13.3" textLength="7.2" lengthAdjust="spacingAndGlyphs" text-anchor="middle" fill="#333" font-family="Liberation Sans, sans-serif">0</text>
<text x="13.60" y="336.9" font-size="13.3" textLength="28.3" lengthAdjust="spacingAndGlyphs" text-anchor="middle" fill="#333" font-family="Liberation Sans, sans-serif">1000</text>
<text x="79.60" y="336.9" font-size="13.3" textLength="28.3" lengthAdjust="spacingAndGlyphs" text-anchor="middle" fill="#333" font-family="Liberation Sans, sans-serif">1100</text>
<text x="144.50" y="336.9" font-size="13.3" textLength="28.3" lengthAdjust="spacingAndGlyphs" text-anchor="middle" fill="#333" font-family="Liberation Sans, sans-serif">1200</text>
<text x="210.50" y="336.9" font-size="13.3" textLength="28.3" lengthAdjust="spacingAndGlyphs" text-anchor="middle" fill="#333" font-family="Liberation Sans, sans-serif">1300</text>
<text x="276.70" y="336.9" font-size="13.3" textLength="28.3" lengthAdjust="spacingAndGlyphs" text-anchor="middle" fill="#333" font-family="Liberation Sans, sans-serif">1400</text>
<text x="342.40" y="336.9" font-size="13.3" textLength="28.3" lengthAdjust="spacingAndGlyphs" text-anchor="middle" fill="#333" font-family="Liberation Sans, sans-serif">1500</text>
<text x="408.40" y="336.9" font-size="13.3" textLength="28.3" lengthAdjust="spacingAndGlyphs" text-anchor="middle" fill="#333" font-family="Liberation Sans, sans-serif">1600</text>
<text x="475.20" y="336.9" font-size="13.3" textLength="28.3" lengthAdjust="spacingAndGlyphs" text-anchor="middle" fill="#333" font-family="Liberation Sans, sans-serif">1700</text>
<text x="538.20" y="336.9" font-size="13.3" textLength="28.3" lengthAdjust="spacingAndGlyphs" text-anchor="middle" fill="#333" font-family="Liberation Sans, sans-serif">1800</text>
<text x="602.10" y="336.9" font-size="13.3" textLength="28.3" lengthAdjust="spacingAndGlyphs" text-anchor="middle" fill="#333" font-family="Liberation Sans, sans-serif">1900</text>
<text x="670.20" y="336.9" font-size="13.3" textLength="28.3" lengthAdjust="spacingAndGlyphs" text-anchor="middle" fill="#333" font-family="Liberation Sans, sans-serif">2000</text>
<text x="342.85" y="11.1" font-size="14.3" textLength="209.9" lengthAdjust="spacingAndGlyphs" text-anchor="middle" fill="#333" font-family="Liberation Sans, sans-serif">Calibrated years before 1950 CE</text>
<text x="342.5" y="364.1" font-size="14.3" text-anchor="middle" fill="#333" font-family="Liberation Sans, sans-serif">Calibrated years CE</text>
<text x="21.1" y="69.9" font-size="12.9" textLength="133.0" lengthAdjust="spacingAndGlyphs" fill="#333" font-family="Liberation Sans, sans-serif">Stardust Bay, Aleutians</text>
<text x="21.1" y="119.1" font-size="12.9" textLength="140.8" lengthAdjust="spacingAndGlyphs" fill="#333" font-family="Liberation Sans, sans-serif">Driftwood Bay, Aleutians</text>
<text x="21.1" y="169.0" font-size="12.9" textLength="130.8" lengthAdjust="spacingAndGlyphs" fill="#333" font-family="Liberation Sans, sans-serif">Anahola Valley, Kaua‘i</text>
<text x="21.1" y="219.0" font-size="12.9" textLength="125.0" lengthAdjust="spacingAndGlyphs" fill="#333" font-family="Liberation Sans, sans-serif">Kahana Valley, O‘ahu</text>
<text x="21.1" y="269.0" font-size="12.9" textLength="123.4" lengthAdjust="spacingAndGlyphs" fill="#333" font-family="Liberation Sans, sans-serif">Pololū Valley, Hawai‘i</text>
<text x="237.3" y="69.5" font-size="13.4" textLength="16.0" lengthAdjust="spacingAndGlyphs" text-anchor="middle" fill="#222" font-family="Liberation Sans, sans-serif">S3</text>
<text x="481.0" y="67.0" font-size="13.4" textLength="16.0" lengthAdjust="spacingAndGlyphs" text-anchor="middle" fill="#222" font-family="Liberation Sans, sans-serif">S2</text>
<text x="244.0" y="128.6" font-size="13.4" textLength="16.4" lengthAdjust="spacingAndGlyphs" text-anchor="middle" fill="#222" font-family="Liberation Sans, sans-serif">C2</text>
<text x="328.2" y="127.0" font-size="13.4" textLength="16.4" lengthAdjust="spacingAndGlyphs" text-anchor="middle" fill="#222" font-family="Liberation Sans, sans-serif">C1</text>
<text x="486.7" y="123.8" font-size="13.4" textLength="8.9" lengthAdjust="spacingAndGlyphs" text-anchor="middle" fill="#222" font-family="Liberation Sans, sans-serif">B</text>
<text x="244.6" y="167.9" font-size="13.4" textLength="15.6" lengthAdjust="spacingAndGlyphs" text-anchor="middle" fill="#222" font-family="Liberation Sans, sans-serif">A3</text>
<text x="289.6" y="223.8" font-size="13.4" textLength="15.5" lengthAdjust="spacingAndGlyphs" text-anchor="middle" fill="#222" font-family="Liberation Sans, sans-serif">K1</text>
<text x="248.2" y="272.9" font-size="13.4" textLength="15.4" lengthAdjust="spacingAndGlyphs" text-anchor="middle" fill="#222" font-family="Liberation Sans, sans-serif">P3</text>
<line x1="414.30" y1="179.5" x2="414.30" y2="278.3" stroke="#666" stroke-width="1.3"/>
<line x1="412.10" y1="278.00" x2="414.30" y2="278.00" stroke="#444" stroke-width="1"/>
<line x1="412.10" y1="263.93" x2="414.30" y2="263.93" stroke="#444" stroke-width="1"/>
<line x1="412.10" y1="249.86" x2="414.30" y2="249.86" stroke="#444" stroke-width="1"/>
<line x1="412.10" y1="235.79" x2="414.30" y2="235.79" stroke="#444" stroke-width="1"/>
<line x1="412.10" y1="221.72" x2="414.30" y2="221.72" stroke="#444" stroke-width="1"/>
<line x1="412.10" y1="207.65" x2="414.30" y2="207.65" stroke="#444" stroke-width="1"/>
<line x1="412.10" y1="193.58" x2="414.30" y2="193.58" stroke="#444" stroke-width="1"/>
<line x1="412.10" y1="179.51" x2="414.30" y2="179.51" stroke="#444" stroke-width="1"/>
<text x="415.2" y="280.00" font-size="11.7" fill="#333" font-family="Liberation Sans, sans-serif">0.00</text>
<text x="415.2" y="254.26" font-size="11.7" fill="#333" font-family="Liberation Sans, sans-serif">0.02</text>
<text x="415.2" y="225.22" font-size="11.7" fill="#333" font-family="Liberation Sans, sans-serif">0.04</text>
<text x="415.2" y="197.08" font-size="11.7" fill="#333" font-family="Liberation Sans, sans-serif">0.06</text>
<text transform="translate(456.7,282.7) rotate(-90)" font-size="14.2" fill="#333" font-family="Liberation Sans, sans-serif">Probability density</text>
<text transform="translate(631.6,312.2) rotate(-90)" font-size="12" font-style="italic" fill="#333" font-family="Liberation Sans, sans-serif">1946</text>
<text transform="translate(653.7,312.2) rotate(-90)" font-size="12" font-style="italic" fill="#333" font-family="Liberation Sans, sans-serif">1957</text>
<text x="243.40" y="315.5" font-size="10.3" textLength="51.3" lengthAdjust="spacingAndGlyphs" font-style="italic" text-anchor="middle" fill="#333" font-family="Liberation Sans, sans-serif">14th century</text>
<text x="309.16" y="315.5" font-size="10.3" textLength="51.3" lengthAdjust="spacingAndGlyphs" font-style="italic" text-anchor="middle" fill="#333" font-family="Liberation Sans, sans-serif">15th century</text>
<text x="506.47" y="315.5" font-size="10.3" textLength="51.3" lengthAdjust="spacingAndGlyphs" font-style="italic" text-anchor="middle" fill="#333" font-family="Liberation Sans, sans-serif">18th century</text>
</svg>
</body></html>
